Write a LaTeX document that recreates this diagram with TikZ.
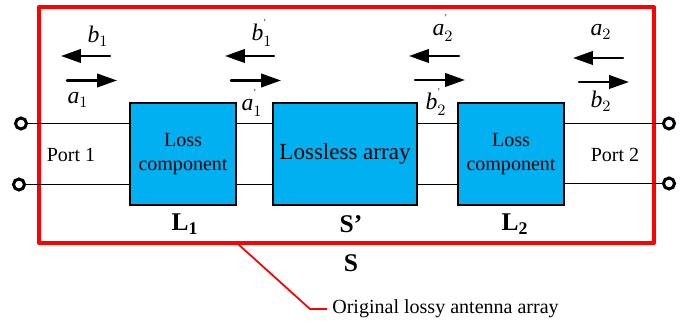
\documentclass[tikz,border=0pt]{standalone}
\usepackage{fontspec}
\setmainfont{Liberation Serif}
\usetikzlibrary{arrows.meta,positioning}
\definecolor{frame}{RGB}{255,0,0}
\definecolor{boxblue}{RGB}{0,176,240}
\newcommand{\wavep}[2]{$\mathit{#1}_{#2}^{\raisebox{0.55ex}{\tiny '}}$}
\tikzset{
  wavearr/.style={-{Triangle[length=0.4cm,width=0.27cm]}, line width=1.4pt, line cap=round},
  wire/.style={line width=0.95pt},
  blk/.style={draw, fill=boxblue, line width=1.2pt, minimum height=2.04cm, inner sep=0pt, align=center},
  portdot/.style={circle, draw, fill=white, line width=1.7pt, minimum size=0.22cm, inner sep=0pt},
  lbl/.style={inner sep=0pt, font=\fontsize{11.4}{13.6}\selectfont},
  sym/.style={inner sep=0pt, font=\fontsize{13.5}{16}\selectfont},
  tag/.style={inner sep=0pt, font=\fontsize{14.5}{17}\selectfont\bfseries},
}
\begin{document}
\begin{tikzpicture}[x=0.02cm,y=0.02cm]
  \useasboundingbox (0,0) rectangle (694,323);
  % --- outer frame
  \draw[frame, line width=2.3pt, line join=round] (39,80) rectangle (654,316);
  % --- blocks
  \node[blk, lbl, minimum width=2.12cm] (lossA) at (183,169) {Loss\\component};
  \node[blk, minimum width=2.88cm, font=\fontsize{13.1}{15}\selectfont] (array) at (345,169) {Lossless array};
  \node[blk, lbl, minimum width=2.12cm] (lossB) at (511,169) {Loss\\component};
  % --- ports
  \node[portdot] (p1a) at (21,199.5) {};
  \node[portdot] (p1b) at (19,138.5) {};
  \node[portdot] (p2a) at (669,199.5) {};
  \node[portdot] (p2b) at (669,139.5) {};
  % --- wires
  \foreach \y in {199.5,138.5}{
    \coordinate (w2) at (236,\y);
    \coordinate (w3) at (273,\y);
    \coordinate (w4) at (417,\y);
    \coordinate (w5) at (458,\y);
    \draw[wire] (w2) -- (w3);
    \draw[wire] (w4) -- (w5);
  }
  \draw[wire] (p1a) -- (p1a -| lossA.west);
  \draw[wire] (p1b) -- (p1b -| lossA.west);
  \draw[wire] (p2a) -- (p2a -| lossB.east);
  \draw[wire] (p2b) -- (p2b -| lossB.east);
  % --- wave arrows
  \foreach \nm/\xs/\xe/\y in {bA/110/61/267, aA/67/117/242.5, bAp/274/225/267, aAp/231/281/242.5,
                              aBp/459/409/267, bBp/415/465/243, aB/623/573/265, bB/579/629/241}{
    \coordinate (\nm s) at (\xs,\y);
    \coordinate (\nm e) at (\xe,\y);
    \draw[wavearr] (\nm s) -- (\nm e);
  }
  % --- wave labels
  \node[sym] (lbA)  at (98,287)  {$\mathit{b}_1$};
  \node[sym] (laA)  at (78,223)  {$\mathit{a}_1$};
  \node[sym] (lbAp) at (262,290) {\wavep{b}{1}};
  \node[sym] (laAp) at (252,220) {\wavep{a}{1}};
  \node[sym] (laBp) at (443,295) {\wavep{a}{2}};
  \node[sym] (lbBp) at (436,221) {\wavep{b}{2}};
  \node[sym] (laB)  at (601,291) {$\mathit{a}_2$};
  \node[sym] (lbB)  at (601,222) {$\mathit{b}_2$};
  % --- port names
  \node[lbl] (nmA) at (71,168) {Port 1};
  \node[lbl] (nmB) at (615,168) {Port 2};
  % --- block names
  \node[tag] (tagA) at (185,99) {L$_{\mathbf{1}}$};
  \node[tag] (tagS) at (351,99) {S’};
  \node[tag] (tagB) at (515,99) {L$_{\mathbf{2}}$};
  \node[tag] (tagO) at (351,60) {S};
  % --- leader
  \node[lbl, anchor=west] (note) at (332,14) {Original lossy antenna array};
  \coordinate (lead) at (238,79);
  \coordinate (knee) at (310,14);
  \coordinate (noteend) at (327,14);
  \draw[frame, line width=1pt] (lead) -- (knee) -- (noteend);
\end{tikzpicture}
\end{document}
